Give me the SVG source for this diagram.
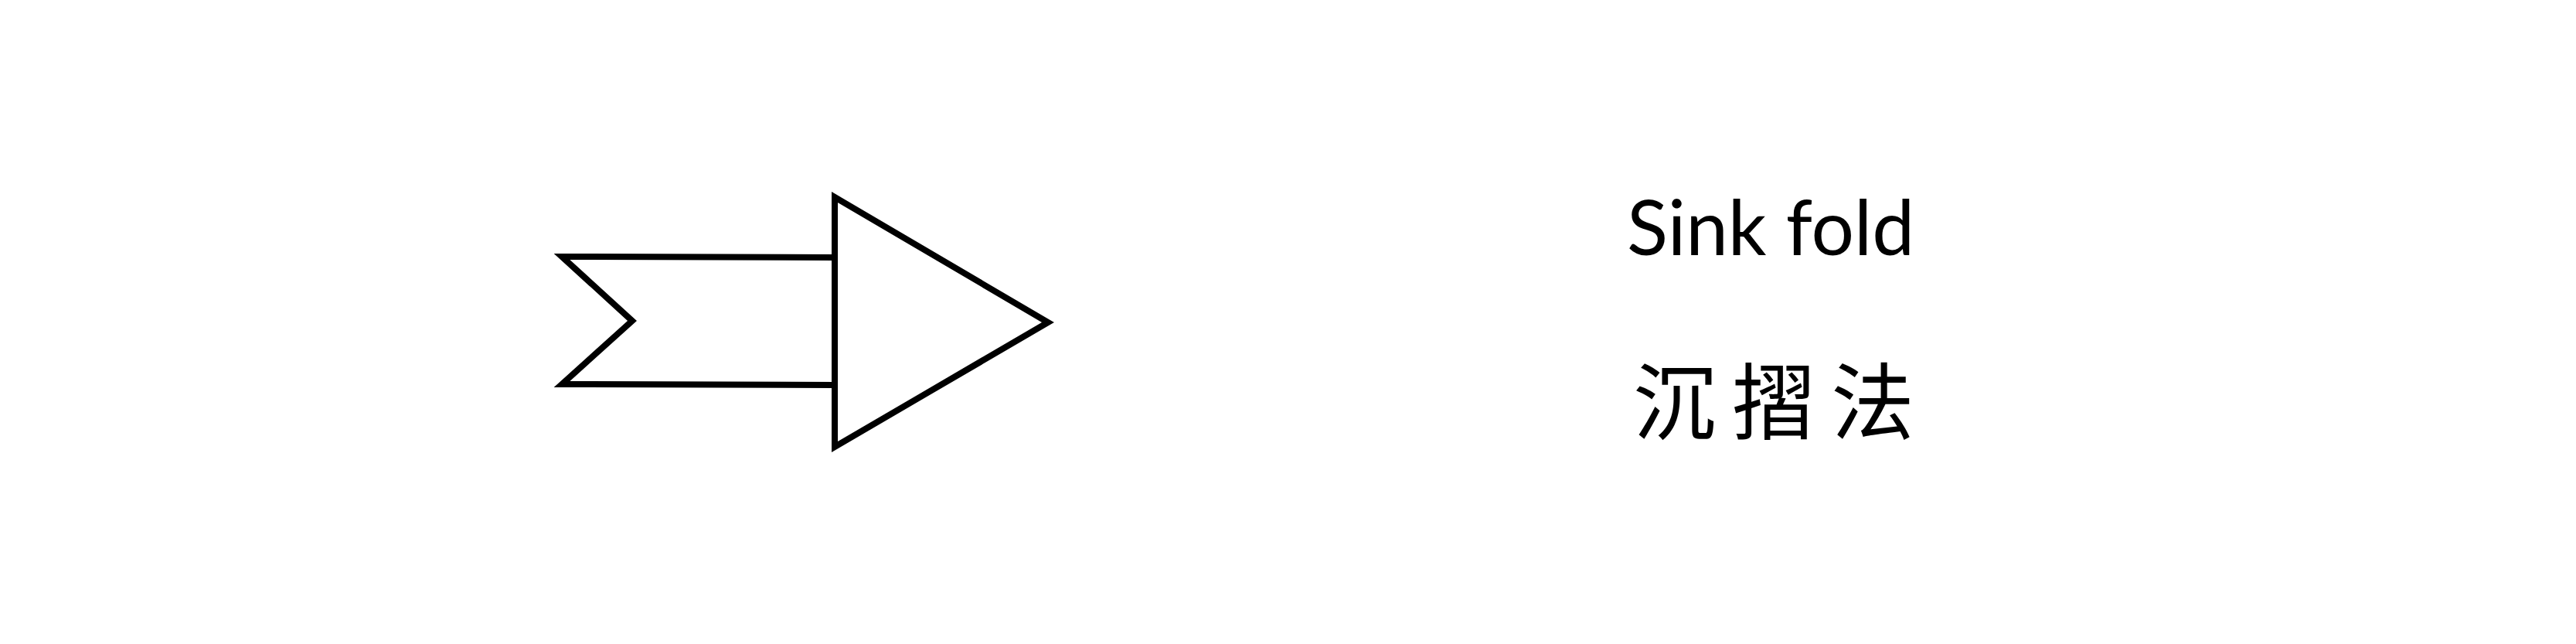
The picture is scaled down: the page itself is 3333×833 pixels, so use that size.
<svg xmlns="http://www.w3.org/2000/svg" width="3333" height="833" viewBox="0 0 3333 833">
<style>
.shape{fill:#fff;stroke:#000;stroke-width:8;stroke-linejoin:miter;stroke-miterlimit:10}
.en{font-family:Lato,"Open Sans","Liberation Sans",sans-serif;font-size:98px;fill:#000;text-anchor:middle}
.zh{font-family:"Noto Sans CJK TC","Noto Sans CJK SC",sans-serif;font-size:108px;fill:#000;text-anchor:middle;letter-spacing:20px}
</style>
<rect width="3333" height="833" fill="#fff"/>
<g id="ribbon">
<path class="shape" d="M1080,333 L727,332 L818,415 L727,497 L1080,498"/>
</g>
<g id="arrowhead">
<polygon class="shape" points="1080,255 1356,417 1080,578"/>
</g>
<g id="labels">
<text class="en" x="2291" y="330">Sink fold</text>
<text class="zh" x="2305" y="560">沉摺法</text>
</g>
</svg>
